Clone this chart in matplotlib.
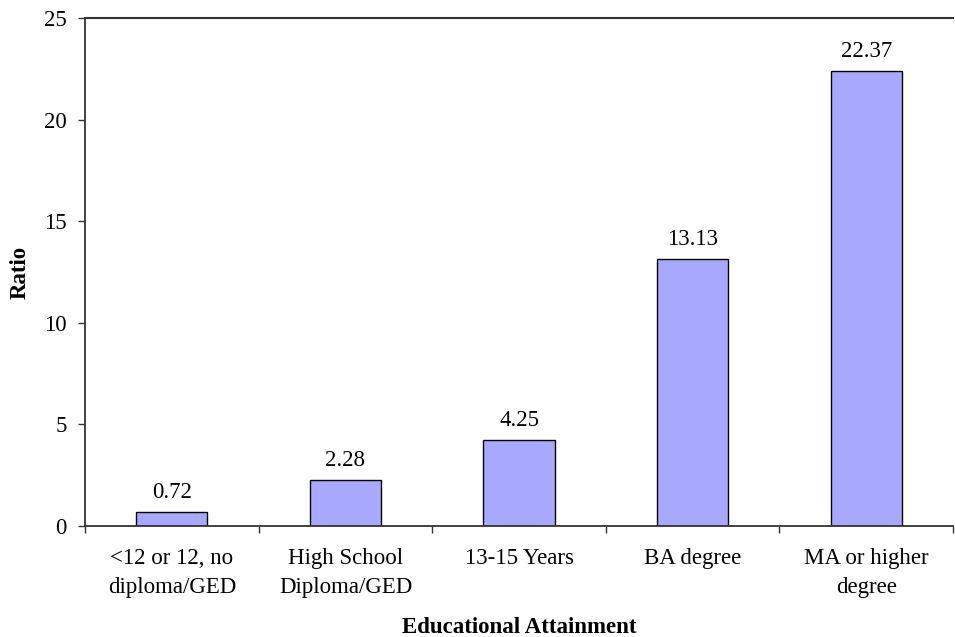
import matplotlib
matplotlib.use('Agg')
import matplotlib.pyplot as plt

categories = ['<12 or 12, no\ndiploma/GED', 'High School\nDiploma/GED', '13-15 Years',
              'BA degree', 'MA or higher\ndegree']
ratios = [0.72, 2.28, 4.25, 13.13, 22.37]
labels = ['0.72', '2.28', '4.25', '13.13', '22.37']

plt.rcParams['font.family'] = ['Liberation Serif', 'DejaVu Serif']
fs = 16.5

fig = plt.figure(figsize=(9.55, 6.37), dpi=100)
ax = fig.add_axes([0.089, 0.174, 0.909, 0.798])

x = list(range(len(categories)))
ax.bar(x, ratios, width=0.41, color='#A8A8FF', edgecolor='black', linewidth=1)

for xi, v, t in zip(x, ratios, labels):
    ax.annotate(t, (xi, v), xytext=(0, 10), textcoords='offset points',
                ha='center', va='baseline', fontsize=fs)

ax.set_xlim(-0.5, len(categories) - 0.5)
ax.set_ylim(0, 25)
ax.set_yticks([0, 5, 10, 15, 20, 25])
ax.axhline(25, color='#333333', linewidth=1.5, clip_on=False)

# ticks at category boundaries, labels at centres
ax.set_xticks([i - 0.5 for i in range(len(categories) + 1)])
ax.set_xticklabels([])
ax.set_xticks(x, minor=True)
ax.set_xticklabels(categories, minor=True, fontsize=fs, linespacing=1.45)
ax.tick_params(axis='x', which='minor', length=0, pad=16)
ax.tick_params(axis='x', which='major', length=5, width=1, color='#333333')
ax.tick_params(axis='y', length=5, width=1, color='#333333', labelsize=fs, pad=8)

for s in ['top', 'right']:
    ax.spines[s].set_visible(False)
for s in ['left', 'bottom']:
    ax.spines[s].set_color('#333333')
    ax.spines[s].set_linewidth(1.3)

ax.set_ylabel('Ratio', fontsize=fs, fontweight='bold', va='center')
ax.yaxis.set_label_coords(-0.075, 0.5)
ax.set_xlabel('Educational Attainment', fontsize=fs, fontweight='bold', labelpad=14)

plt.savefig('out.png', dpi=100)
plt.close()
